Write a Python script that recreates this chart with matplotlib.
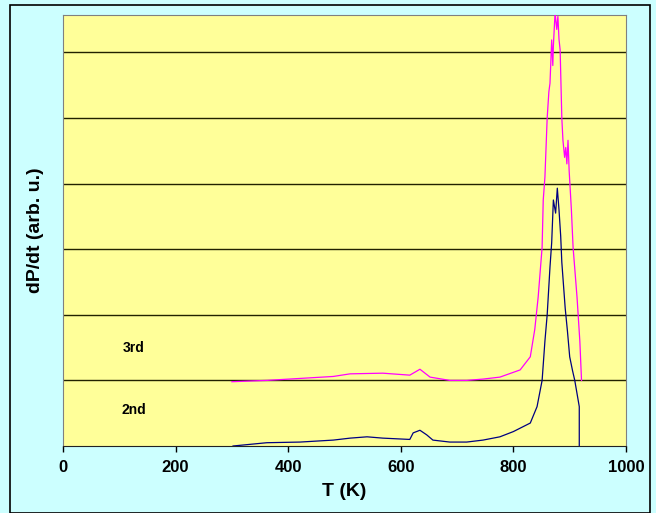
import matplotlib
matplotlib.use("Agg")
import matplotlib.pyplot as plt
from matplotlib.patches import Rectangle

plt.rcParams['font.family'] = ['Liberation Sans', 'DejaVu Sans']

# 2nd run (navy)
T2 = [302, 362, 421, 480, 510, 540, 568, 616, 622, 634, 646, 657, 687, 717, 746, 776,
      800, 830, 842, 851, 856, 860, 865, 868, 871, 875, 878, 881, 884, 886, 889, 892, 896,
      900, 905, 909, 915, 917, 917]
y2 = [0.0, 0.05, 0.06, 0.09, 0.12, 0.14, 0.12, 0.10, 0.20, 0.24, 0.17, 0.09, 0.06, 0.06, 0.09, 0.14,
      0.22, 0.35, 0.60, 1.00, 1.60, 2.00, 2.73, 3.10, 3.75, 3.55, 3.93, 3.60, 3.20, 2.80, 2.45, 2.10, 1.75,
      1.36, 1.15, 1.00, 0.70, 0.60, 0.0]

# 3rd run (magenta, plotted with offset)
T3 = [300, 362, 421, 480, 510, 568, 616, 634, 652, 687, 717, 746, 776, 812, 830, 838,
      844, 851, 853, 856, 860, 863, 865, 868, 870, 871, 874, 877, 879, 881, 883, 886, 888, 891,
      893, 895, 897, 899, 900, 903, 906, 913, 918, 921]
y3 = [0.98, 1.00, 1.03, 1.06, 1.10, 1.11, 1.08, 1.17, 1.05, 1.00, 1.00, 1.02, 1.05, 1.16, 1.36, 1.78,
      2.27, 3.03, 3.75, 4.10, 5.00, 5.40, 5.53, 6.19, 5.80, 6.10, 6.60, 6.35, 6.55, 6.20, 6.04, 5.00,
      4.66, 4.40, 4.55, 4.30, 4.66, 4.20, 4.05, 3.60, 3.03, 2.27, 1.60, 1.00]

labels = ["3rd", "2nd"]
label_y = [1.5, 0.55]

fig = plt.figure(figsize=(6.56, 5.13), dpi=100, facecolor='#CCFFFF')
fig.patches.append(Rectangle((10/656, 0), 640/656, 508/513, transform=fig.transFigure,
                             fill=False, edgecolor='black', linewidth=1.2))
ax = fig.add_axes([63/656, 1 - 446/513, (626-63)/656, (446-15)/513])
ax.set_facecolor('#FFFF99')
ax.set_xlim(0, 1000)
ax.set_ylim(0, 6.57)
ax.set_yticks([])
for g in range(1, 7):
    ax.axhline(g, color='#222200', linewidth=1.0, zorder=1)
ax.plot(T2, y2, color='#000080', linewidth=0.9, zorder=3)
ax.plot(T3, y3, color='#FF00FF', linewidth=0.9, zorder=3)
for s in ax.spines.values():
    s.set_color('#808080')
ax.spines['bottom'].set_color('#222222')
ax.set_xticks([0, 200, 400, 600, 800, 1000])
ax.tick_params(axis='x', direction='out', length=4, width=1, pad=6,
               labelsize=12)
for lab in ax.get_xticklabels():
    lab.set_fontweight('bold')
for t, yy in zip(labels, label_y):
    ax.text(125, yy, t, fontsize=10, fontweight='bold', ha='center', va='center')
ax.set_xlabel('T (K)', fontsize=14, fontweight='bold', labelpad=6)
ax.set_ylabel('dP/dt (arb. u.)', fontsize=14, fontweight='bold', labelpad=14)
fig.savefig('out.png', dpi=100, facecolor=fig.get_facecolor())
